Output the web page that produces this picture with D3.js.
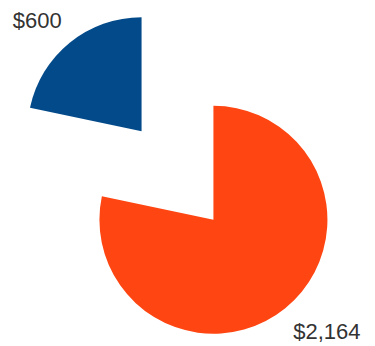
<!DOCTYPE html>
<html>
<head>
<meta charset="utf-8">
<script src="https://cdn.jsdelivr.net/npm/d3@7"></script>
<style>
  html, body { margin: 0; padding: 0; background: #fff; }
  svg { display: block; }
</style>
</head>
<body>
<div id="chart"></div>
<script>
// Two-slice exploded pie with dollar labels
const categories = ["Orange", "Blue"];
const values = [2164, 600];
const labels = ["$2,164", "$600"];
const colors = ["#ff4511", "#034a8a"];

const width = 375, height = 346;
const cx = 177.5, cy = 175.5;
const radius = 114;
const explode = 57;
const labelRadius = 137;
const labelTurn = 0.06; // labels sit slightly clockwise of each slice's mid-angle

const svg = d3.select("#chart").append("svg")
  .attr("width", width).attr("height", height);

const data = categories.map((c, i) => ({ name: c, value: values[i], label: labels[i], color: colors[i] }));

// Orange slice starts at 12 o'clock and runs clockwise; blue fills the remainder
const pie = d3.pie().value(d => d.value).sort(null);
const arcs = pie(data);
const arc = d3.arc().innerRadius(0).outerRadius(radius);

const g = svg.append("g").attr("transform", `translate(${cx},${cy})`);

const mid = d => (d.startAngle + d.endAngle) / 2;

const slice = g.selectAll("g.slice").data(arcs).join("g")
  .attr("class", "slice")
  .attr("transform", d => `translate(${Math.sin(mid(d)) * explode},${-Math.cos(mid(d)) * explode})`);

slice.append("path")
  .attr("d", arc)
  .attr("fill", d => d.data.color);

slice.append("text")
  .attr("x", d => Math.sin(mid(d) + labelTurn) * labelRadius)
  .attr("y", d => -Math.cos(mid(d) + labelTurn) * labelRadius)
  .attr("dy", "0.35em")
  .attr("text-anchor", d => Math.sin(mid(d)) < 0 ? "end" : "start")
  .attr("font-family", "Liberation Sans, Arial, sans-serif")
  .attr("font-size", 22)
  .attr("fill", "#333")
  .text(d => d.data.label);
</script>
</body>
</html>
